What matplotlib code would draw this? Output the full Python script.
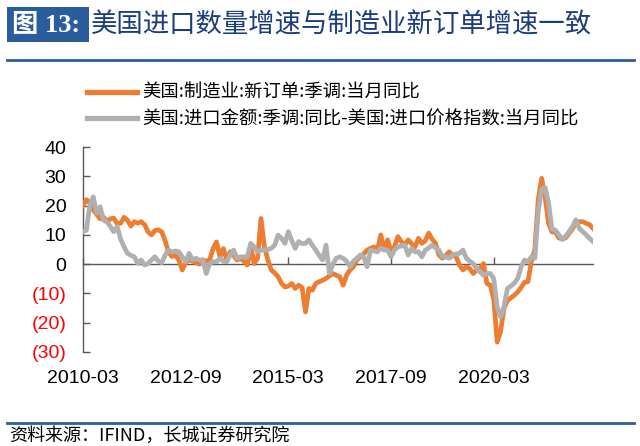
import matplotlib
matplotlib.use("Agg")
import matplotlib.pyplot as plt
from matplotlib.patches import Rectangle
from matplotlib.lines import Line2D
import pandas as pd

# ---- data (monthly, 2010-03 .. 2022-08) ----
start_month = "2010-03"
orders = [
    20, 22, 21, 18.5, 17, 15.5, 16, 14.5, 15.5, 15.7,
    13.8, 14, 16, 15, 13, 14.5, 14, 14.5, 13.5, 11,
    10, 11.5, 11.7, 11, 8, 4, 2.6, 3, 1.5, -2,
    0.5, 1.5, 1, 0.5, 0, 1.5, 1, 1.4, 5.3, 7.6,
    2.5, 5.3, 1.4, 4.2, 3, 1.4, 2, 1, -0.3, 5.9,
    0.2, 2, 15.6, 5.9, 1.4, -2, -3, -4.3, -6.6, -7.8,
    -7.5, -6.6, -8.3, -7.2, -8, -16.3, -8.3, -8.9, -6.6, -6,
    -5.5, -4.9, -4, -3.2, -3.8, -4.3, -7.2, -3.8, -2, -0.9,
    1.4, 2.5, 3.5, 4.8, 5.4, 5.9, 4.8, 10, 4.8, 8.3,
    4.2, 5.9, 9.4, 7.7, 6.5, 8.3, 7, 5.9, 8.8, 7.1,
    8, 10.6, 8.5, 7.1, 3.1, 2, 3, 4.2, 3, 2.5,
    -0.3, -2, -0.9, -1.5, -3.2, -2, -1.5, 0.2, -6.6, -7.2,
    -12, -26.6, -23, -15, -12.5, -11.5, -10.6, -9.5, -8, -6.2,
    -6, 1, 5, 22, 29.3, 23, 14, 11, 11, 9,
    8.5, 9, 10.5, 12, 14.3, 14.5, 14.5, 13.9, 13.5, 12.2,
]
imports = [
    11.1, 11.6, 20.2, 23, 17.4, 19.6, 15, 14.5, 12.8, 11.1,
    12.8, 8.5, 5.9, 3.7, 3, 2.5, 0.2, 1.4, -0.3, 0.2,
    1.4, 2.5, 1, 0.5, 3.1, 4.8, 4.2, 4.5, 4.2, 2.5,
    0.8, 3.7, 1.4, 2, 1.4, 1.4, -3.2, 0.2, 0.8, 0.8,
    2, 1, 0.8, 3.1, 4.8, 2, 2.5, 2.5, 2.5, 7.1,
    5.9, 4.2, 4.8, 4.8, 5, 5.4, 6.5, 9.9, 8.8, 7.1,
    11.1, 8, 5.4, 7.7, 7, 7.1, 8.3, 6.5, 4.8, 3,
    1.4, 6.5, -3.2, 0, 2, 2.5, 2, 1, -0.9, 1,
    2, 3.1, 2.5, -0.9, 4.8, 4.5, 4.2, 5.4, 5, 4.8,
    2.5, 4.8, 5.9, 6.2, 6.5, 3.1, 5.4, 4.2, 4.2, 2.5,
    4.8, 5.5, 6.5, 5.5, 4.8, 2.5, 2.5, 2, 3.1, 3.5,
    3.7, 4.8, 2, 1, 0.2, -1.5, -2.6, -3.8, -3.2, -3.2,
    -5, -14.6, -18, -14.6, -8.3, -7.5, -6.5, -4.9, -0.9, 1.4,
    0.8, 2.5, 2, 18, 25.5, 26.2, 21, 12, 11.6, 10,
    8.5, 9.5, 11.1, 12.8, 15.1, 12.2, 11.1, 10, 8.8, 7.7,
]
series_labels = ["美国:制造业:新订单:季调:当月同比",
                 "美国:进口金额:季调:同比-美国:进口价格指数:当月同比"]
x_tick_labels = ["2010-03", "2012-09", "2015-03", "2017-09", "2020-03"]
y_ticks = [40, 30, 20, 10, 0, -10, -20, -30]
title_tag = "图 13:"
title_text = "美国进口数量增速与制造业新订单增速一致"
source_text = "资料来源：IFIND，长城证券研究院"

dates = pd.date_range(start_month, periods=len(orders), freq="MS")
labels_all = [d.strftime("%Y-%m") for d in dates]
xpos = list(range(len(orders)))

# ---- figure ----
fig = plt.figure(figsize=(6.4, 4.46), dpi=100)
W, H = 640, 446

def fx(px):
    return px / W

def fy(py):
    return 1 - py / H

ax = fig.add_axes([fx(83), fy(352), (593 - 83) / W, (352 - 147) / H])

c_orange = "#ED7D31"
c_gray = "#B0B0B0"
ax.plot(xpos, orders, color=c_orange, lw=3.4, solid_joinstyle="round", label=series_labels[0], zorder=3)
ax.plot(xpos, imports, color=c_gray, lw=3.4, solid_joinstyle="round", label=series_labels[1], zorder=4)

ax.set_xlim(0, len(orders) - 1)
ax.set_ylim(-30, 40)

for s in ["top", "right"]:
    ax.spines[s].set_visible(False)
ax.spines["left"].set_color("#595959")
ax.spines["left"].set_linewidth(1.0)
ax.spines["bottom"].set_position(("data", 0))
ax.spines["bottom"].set_color("#595959")
ax.spines["bottom"].set_linewidth(1.0)

tick_idx = [labels_all.index(l) for l in x_tick_labels]
ax.set_xticks(tick_idx)
ax.set_xticklabels(x_tick_labels, fontfamily="Liberation Sans", fontsize=14)
ax.tick_params(axis="x", direction="in", length=5, width=1, color="#595959", pad=76)

ax.set_yticks(y_ticks)
ylabels = [str(v) if v >= 0 else f"({abs(v)})" for v in y_ticks]
ax.set_yticklabels(ylabels, fontfamily="Liberation Sans", fontsize=14)
for t, v in zip(ax.get_yticklabels(), y_ticks):
    t.set_color("#FF0000" if v < 0 else "black")
ax.tick_params(axis="y", direction="in", length=5, width=1, color="#595959", pad=12)

leg = ax.legend(loc="upper left", bbox_to_anchor=(fx(87), fy(84)), bbox_transform=fig.transFigure,
                frameon=False, borderpad=0, borderaxespad=0, handlelength=2.75, handletextpad=0.25,
                labelspacing=0.45, prop={"family": "Noto Sans CJK SC", "size": 13.2})
for h in leg.get_lines():
    h.set_linewidth(3.8)

# ---- title bar ----
fig.patches.append(Rectangle((fx(7), fy(42)), (89 - 7) / W, (42 - 7) / H,
                             transform=fig.transFigure, facecolor="#2B5C9B", edgecolor="none"))
fig.text(fx(12), fy(25), title_tag, color="white", fontsize=19, fontweight="bold",
         family=["Liberation Serif", "Noto Sans CJK SC"], va="center", ha="left")
fig.text(fx(91), fy(25), title_text, color="#1B3C7D", fontsize=19,
         family=["Noto Sans CJK SC"], va="center", ha="left")
fig.lines.append(Line2D([fx(7), fx(634)], [fy(60), fy(60)], transform=fig.transFigure,
                        color="#2B5C9B", lw=2))
fig.lines.append(Line2D([fx(7), fx(634)], [fy(423), fy(423)], transform=fig.transFigure,
                        color="#2B5C9B", lw=2))
fig.text(fx(9), fy(436), source_text, color="black", fontsize=13, style="italic",
         family=["Noto Sans CJK SC"], va="center", ha="left")

fig.savefig("out.png", dpi=100)
